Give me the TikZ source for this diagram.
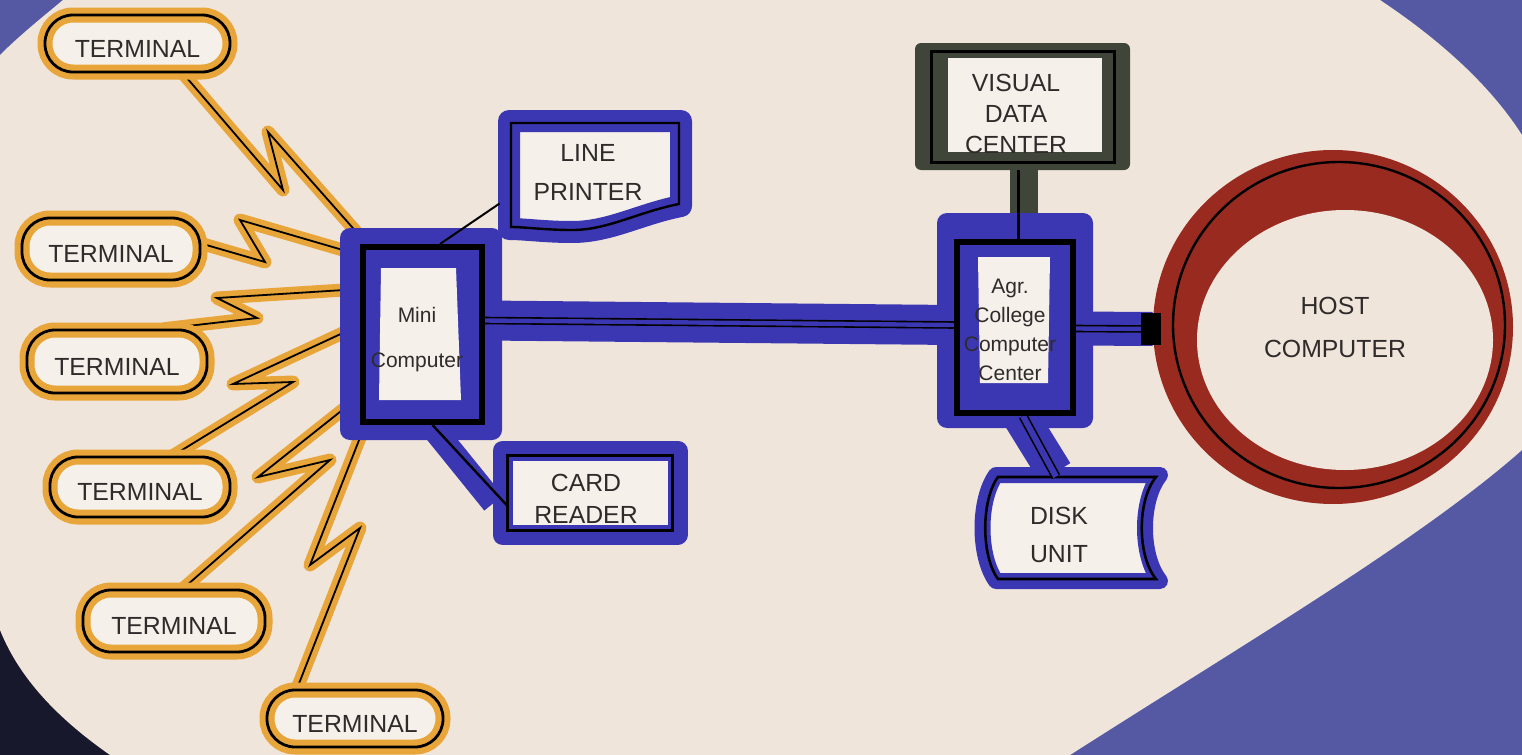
\documentclass[tikz,border=0pt]{standalone}
\usepackage{fontspec}
\setmainfont{Liberation Sans}
\usetikzlibrary{calc}
\definecolor{bgblue}{HTML}{5559A3}
\definecolor{bgdark}{HTML}{18182C}
\definecolor{paper}{HTML}{F0E5DB}
\definecolor{inner}{HTML}{F6F0EA}
\definecolor{orng}{HTML}{E8A539}
\definecolor{bbl}{HTML}{3B37B2}
\definecolor{vdcg}{HTML}{3F4538}
\definecolor{hred}{HTML}{982A20}
\definecolor{ink}{HTML}{2F2B2B}
\pgfdeclarelayer{paperl}
\pgfdeclarelayer{links}
\pgfdeclarelayer{boxes}
\pgfdeclarelayer{wires}
\pgfsetlayers{paperl,links,boxes,wires,main}
\begin{document}
\begin{tikzpicture}[x=0.5pt,y=-0.5pt,
  bolt/.style={draw=orng, line width=6.5pt, line join=round, line cap=round},
  boltline/.style={draw=black, line width=0.9pt, line join=miter, miter limit=6, preaction={bolt}},
  term/.style={rectangle, rounded corners=14pt, draw=black, line width=1.4pt,
     preaction={fill=inner}, preaction={draw=orng, line width=7.5pt},
     inner sep=0pt, font=\fontsize{12.4}{14}\selectfont, text=ink,
     text height=13.5pt, text depth=0pt},
  frame/.style={rectangle, draw=black, line width=3pt, inner sep=0pt},
  ghost/.style={rectangle, draw=none, inner sep=0pt},
  txt/.style={font=\fontsize{12.4}{15}\selectfont, text=ink, align=center, inner sep=0pt},
  stxt/.style={text=ink, align=center, inner sep=0pt},
  wire/.style={draw=black, line width=0.8pt, double=bbl, double distance=2.2pt},
]
\useasboundingbox (0,0) rectangle (1522,755);

% ---------- nodes ----------
\node[term, minimum width=92.5pt, minimum height=28.5pt] (t1) at (137.5,43.5) {TERMINAL};
\node[term, minimum width=89pt, minimum height=31pt] (t2) at (111,249) {TERMINAL};
\node[term, minimum width=90pt, minimum height=31.5pt] (t3) at (117,361.5) {TERMINAL};
\node[term, minimum width=90pt, minimum height=30pt] (t4) at (140,487) {TERMINAL};
\node[term, minimum width=91pt, minimum height=31pt] (t5) at (174,621) {TERMINAL};
\node[term, minimum width=88pt, minimum height=28.5pt] (t6) at (355,718.5) {TERMINAL};

\node[frame, minimum width=59.5pt, minimum height=87.5pt] (mini) at (422.5,334.5) {};
\node[frame, minimum width=58pt, minimum height=85.5pt] (agr) at (1015,327.5) {};
\node[ghost, minimum width=107.5pt, minimum height=63.5pt] (vdc) at (1022.5,106.5) {};
\node[ghost, minimum width=97pt, minimum height=63.5pt] (prn) at (595,176.5) {};
\node[ghost, minimum width=97.5pt, minimum height=50pt] (card) at (589.5,493) {};
\node[ghost, minimum width=95pt, minimum height=60pt] (disk) at (1073,528) {};
\node[circle, draw=none, inner sep=0pt, minimum size=180pt] (host) at (1333,327) {};

% texts
\node[stxt, font=\fontsize{10.5}{22.5}\selectfont] (minitxt) at (417,340) {Mini\\Computer};
\node[stxt, font=\fontsize{10.5}{14.5}\selectfont] (agrtxt) at (1010,330) {Agr.\\College\\Computer\\Center};
\node[txt, font=\fontsize{12.4}{15.5}\selectfont] (vdctxt) at (1016,114) {VISUAL\\DATA\\CENTER};
\node[txt, font=\fontsize{12.4}{19.5}\selectfont] (prntxt) at (588,172) {LINE\\PRINTER};
\node[txt, font=\fontsize{12.4}{16}\selectfont] (cardtxt) at (586,499) {CARD\\READER};
\node[txt, font=\fontsize{12.4}{19}\selectfont] (disktxt) at (1059,535) {DISK\\UNIT};
\node[txt, font=\fontsize{12.4}{21.5}\selectfont] (hosttxt) at (1335,327) {HOST\\COMPUTER};

% ---------- paper ----------
\begin{pgfonlayer}{paperl}
\fill[bgblue] (0,0) rectangle (1522,755);
\fill[bgdark] (0,560) -- (0,755) -- (230,755) -- cycle;
\fill[paper] (63,0) -- (1380,0) .. controls (1440,40) and (1490,85) .. (1522,135)
  -- (1522,450) .. controls (1420,540) and (1250,640) .. (1070,755)
  -- (110,755) .. controls (60,720) and (20,680) .. (0,630)
  -- (0,55) .. controls (20,35) and (45,15) .. (63,0) -- cycle;
\end{pgfonlayer}

% ---------- connectors ----------
\begin{pgfonlayer}{links}
\draw[boltline] ($(t1.south)+(45.5,0)$) -- (283,190) -- (268,132) -- ($(mini.north west)+(7,0)$);
\draw[boltline] ($(t2.east)+(-2,-6)$) -- (265,262) -- (240,220) -- ($(mini.north west)+(0,11)$);
\draw[boltline] ($(t3.north)+(48,0)$) -- (257,318) -- (217,298) -- ($(mini.west)+(0,-45.5)$);
\draw[boltline] ($(t4.north)+(33,0)$) -- (293,382) -- (233,384) -- ($(mini.west)+(0,-9.5)$);
\draw[boltline] ($(t5.north)+(9,0)$) -- (330,460) -- (258,477) -- ($(mini.south west)+(0,-29)$);
\draw[boltline] ($(t6.north)+(-58,0)$) -- (360,528) -- (310,565) -- ($(mini.south west)+(5,0)$);

\draw[bbl, line width=20pt] ($(mini.east)+(0,-14)$) -- ($(agr.west)+(0,-2.5)$);
\draw[bbl, line width=17pt] ($(agr.east)+(0,1)$) -- ($(host.west)+(0,2)$);
\draw[bbl, line width=12pt] ($(mini.south)+(8,0)$) -- ($(card.west)+(2,10)$);
\draw[bbl, line width=18pt] ($(agr.south)+(5,0)$) -- ($(disk.north)+(-18,5)$);
\draw[vdcg, line width=14pt] ($(vdc.south)+(1.5,-4)$) -- ($(agr.north)+(9,-12)$);
\end{pgfonlayer}

% ---------- box bodies ----------
\begin{pgfonlayer}{boxes}
% mini computer
\fill[bbl, rounded corners=5pt] (340,228) rectangle (502,440);
\fill[inner] (381,268) -- (456,268) -- (461,400) -- (379,400) -- cycle;
% agr college
\fill[bbl, rounded corners=5pt] (937,213) rectangle (1093,428);
\fill[inner] (978,257) -- (1050,257) -- (1048,383) -- (980,383) -- cycle;
% visual data center
\fill[vdcg, rounded corners=3pt] (915,43) rectangle (1130,170);
\draw[black, line width=1.5pt] (931,51) rectangle (1114,162);
\fill[inner] (948,58) rectangle (1102,152);
% line printer
\fill[inner] (509,121) -- (681,121) -- (681,206) .. controls (640,214) and (610,232) .. (572,232) .. controls (545,232) and (525,229) .. (509,229) -- cycle;
\draw[bbl, line width=11pt, line join=round] (509,121) -- (681,121) -- (681,206) .. controls (640,214) and (610,232) .. (572,232) .. controls (545,232) and (525,229) .. (509,229) -- cycle;
\draw[black, line width=1.2pt] (511,123) -- (679,123) -- (679,204) .. controls (638,212) and (608,230) .. (572,230) .. controls (545,230) and (525,227) .. (511,227) -- cycle;
% card reader
\fill[inner] (502.5,450.5) rectangle (677.5,535);
\draw[bbl, line width=10pt, line join=round] (502.5,450.5) rectangle (677.5,535);
\draw[black, line width=1.5pt] (507,455) rectangle (672,530);
% disk unit
\fill[inner] (996,475) -- (1160,475) .. controls (1140,500) and (1140,556) .. (1160,581) -- (996,581) .. controls (978,556) and (978,500) .. (996,475) -- cycle;
\draw[bbl, line width=8pt, line join=round] (996,475) -- (1160,475) .. controls (1140,500) and (1140,556) .. (1160,581) -- (996,581) .. controls (978,556) and (978,500) .. (996,475) -- cycle;
\draw[black, line width=1.3pt] (998,477) -- (1156,477) .. controls (1137,500) and (1137,556) .. (1156,579) -- (998,579) .. controls (981,556) and (981,500) .. (998,477) -- cycle;
% host computer
\fill[hred] (host.center) ellipse [x radius=90pt, y radius=88.5pt];
\fill[paper] (1345,340) ellipse [x radius=74pt, y radius=65pt];
\draw[black, line width=1.2pt] (1339,325) ellipse [x radius=83pt, y radius=81.5pt];
\end{pgfonlayer}

% ---------- wires over bodies ----------
\begin{pgfonlayer}{wires}
\draw[wire] ($(mini.east)+(0,-14)$) -- ($(agr.west)+(0,-2.5)$);
\draw[wire] ($(agr.east)+(0,1)$) -- ($(host.west)+(0,2)$);
\draw[black, line width=16pt] ($(host.west)+(-12,2)$) -- ($(host.west)+(8,2)$);
\draw[wire, double distance=3pt] ($(agr.south)+(8,0)$) -- ($(disk.north)+(-17,9)$);
\draw[black, line width=1.2pt] ($(mini.south)+(10,0)$) -- ($(card.west)+(15,12)$);
\draw[black, line width=1pt] ($(mini.north)+(17.5,0)$) -- ($(prn.west)+(2,27)$);
\draw[black, line width=1.3pt] ($(vdc.south)+(-4,0)$) -- ($(agr.north)+(3.5,0)$);
\end{pgfonlayer}
\end{tikzpicture}
\end{document}
